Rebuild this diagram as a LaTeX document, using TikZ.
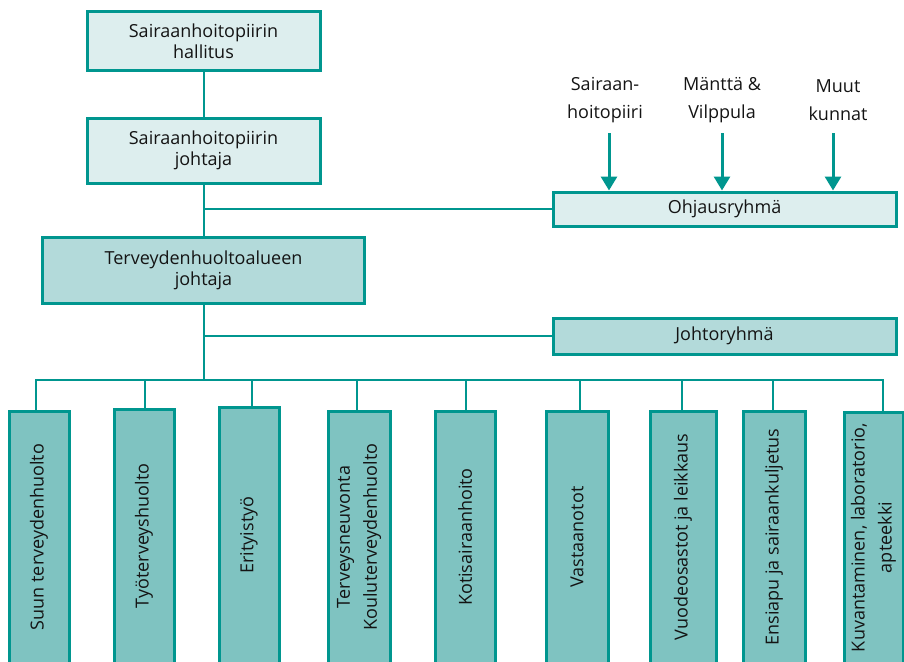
\documentclass[tikz,border=0pt]{standalone}
\usepackage{fontspec}
\setmainfont{Open Sans}
\usetikzlibrary{arrows.meta}

\definecolor{orgline}{HTML}{00968F}
\definecolor{fillpale}{HTML}{DDEEEE}
\definecolor{fillmid}{HTML}{B3DADA}
\definecolor{filldeep}{HTML}{7FC3C1}
\definecolor{ink}{HTML}{141414}

\begin{document}
\begin{tikzpicture}[x=1pt,y=-1pt,
  font=\fontsize{18}{21}\selectfont,
  box/.style={draw=orgline, line width=3pt, text=ink, align=center, inner sep=0pt},
  pale/.style={box, fill=fillpale},
  mid/.style={box, fill=fillmid},
  unit/.style={box, fill=filldeep},
  link/.style={draw=orgline, line width=2pt, line join=miter},
  feed/.style={draw=orgline, line width=3pt, -{Triangle[width=16pt,length=14pt]}},
  src/.style={align=center, text=ink, font=\fontsize{18}{28}\selectfont},
  vlabel/.style={rotate=90, align=center, text=ink, font=\fontsize{18}{27}\selectfont}]

\useasboundingbox (0,0) rectangle (904,661);
\clip (0,0) rectangle (904,661);

% management chain
\node[pale, minimum width=233pt, minimum height=58pt] (hall) at (203.5,41) {Sairaanhoitopiirin\\hallitus};
\node[pale, minimum width=233pt, minimum height=65pt] (shpj) at (203.5,150.5) {Sairaanhoitopiirin\\johtaja};
\node[mid, minimum width=322pt, minimum height=66pt] (tja) at (203.5,270) {Terveydenhuoltoalueen\\johtaja};

% steering and management groups
\node[pale, minimum width=343pt, minimum height=34pt] (ohj) at (724.5,209) {Ohjausryhmä};
\node[mid, minimum width=343pt, minimum height=36pt] (jry) at (724.5,336) {Johtoryhmä};

% parties feeding the steering group
\node[src] (l1) at (605,100) {Sairaan-\\hoitopiiri};
\node[src] (l2) at (722,100) {Mänttä \&\\Vilppula};
\node[src] (l3) at (838,100) {Muut\\kunnat};
\coordinate (a1) at (609,133);
\coordinate (a2) at (722,133);
\coordinate (a3) at (833,133);
\draw[feed] (a1) -- (a1 |- ohj.north);
\draw[feed] (a2) -- (a2 |- ohj.north);
\draw[feed] (a3) -- (a3 |- ohj.north);

% service units
\node[unit, minimum width=60pt, minimum height=252pt] (b1) at (39,537) {};
\node[unit, minimum width=60pt, minimum height=254pt] (b2) at (144,536) {};
\node[unit, minimum width=60pt, minimum height=256pt] (b3) at (249,535) {};
\node[unit, minimum width=62pt, minimum height=252pt] (b4) at (359,537) {};
\node[unit, minimum width=60pt, minimum height=252pt] (b5) at (465,537) {};
\node[unit, minimum width=62pt, minimum height=252pt] (b6) at (577,537) {};
\node[unit, minimum width=66pt, minimum height=252pt] (b7) at (683,537) {};
\node[unit, minimum width=62pt, minimum height=252pt] (b8) at (774,537) {};
\node[unit, minimum width=59pt, minimum height=251pt] (b9) at (873.5,537.5) {};

\node[vlabel] at (b1.center) {Suun terveydenhuolto};
\node[vlabel] at (b2.center) {Työterveyshuolto};
\node[vlabel] at (b3.center) {Erityistyö};
\node[vlabel] at (b4.center) {Terveysneuvonta\\Kouluterveydenhuolto};
\node[vlabel] at (b5.center) {Kotisairaanhoito};
\node[vlabel] at (b6.center) {Vastaanotot};
\node[vlabel] at (b7.center) {Vuodeosastot ja leikkaus};
\node[vlabel] at (b8.center) {Ensiapu ja sairaankuljetus};
\node[vlabel] at (b9.center) {Kuvantaminen, laboratorio,\\apteekki};

% connectors
\coordinate (bus) at (203.5,380);
\draw[link] (hall.south) -- (shpj.north);
\draw[link] (shpj.south) -- (tja.north);
\draw[link] (tja.south) -- (bus);
\draw[link] (ohj.west) -- (ohj.west -| shpj.south);
\draw[link] (jry.west) -- (jry.west -| tja.south);

\coordinate (d1) at (36,380);
\coordinate (d2) at (145,380);
\coordinate (d3) at (252,380);
\coordinate (d4) at (357,380);
\coordinate (d5) at (466,380);
\coordinate (d6) at (580,380);
\coordinate (d7) at (682,380);
\coordinate (d8) at (773,380);
\coordinate (d9) at (883,380);
\draw[link] (d1 |- b1.north) -- (d1) -- (d9) -- (d9 |- b9.north);
\foreach \k in {2,...,8} {
  \draw[link] (d\k) -- (d\k |- b\k.north);
}
\end{tikzpicture}
\end{document}
